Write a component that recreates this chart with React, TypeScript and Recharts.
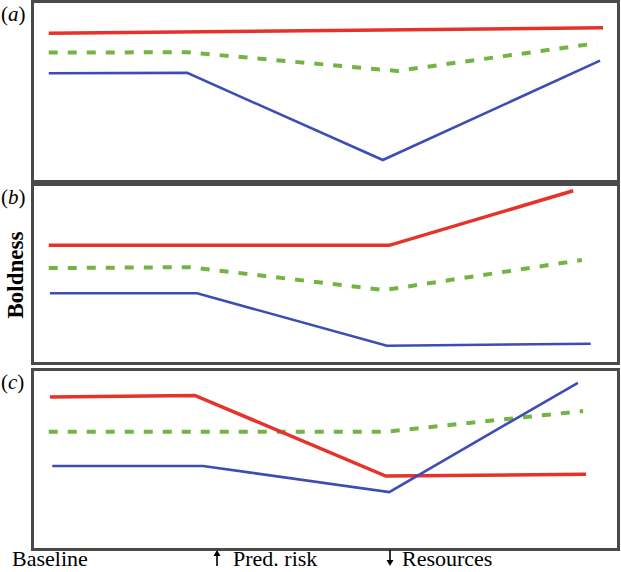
import { LineChart, Line, XAxis, YAxis } from 'recharts'

// t = time position (0-100 across panel), v = boldness (0-100 within panel)
const aRed = [{ t: 2.7, v: 82.6 }, { t: 97.6, v: 85.7 }]
const aGreen = [{ t: 2.7, v: 71.9 }, { t: 26.4, v: 72.1 }, { t: 62.3, v: 61.7 }, { t: 96.6, v: 77.1 }]
const aBlue = [{ t: 2.7, v: 60.4 }, { t: 26.4, v: 60.6 }, { t: 59.9, v: 12.2 }, { t: 97.1, v: 67.4 }]

const bRed = [{ t: 2.7, v: 66.3 }, { t: 61.0, v: 66.3 }, { t: 92.5, v: 96.8 }]
const bGreen = [{ t: 2.7, v: 53.6 }, { t: 26.9, v: 54.1 }, { t: 60.1, v: 41.3 }, { t: 94.0, v: 58.1 }]
const bBlue = [{ t: 2.9, v: 39.5 }, { t: 28.1, v: 39.5 }, { t: 60.6, v: 10.2 }, { t: 95.5, v: 11.3 }]

const cRed = [{ t: 2.9, v: 85.0 }, { t: 27.7, v: 85.9 }, { t: 60.4, v: 41.1 }, { t: 94.7, v: 42.1 }]
const cGreen = [{ t: 2.7, v: 65.7 }, { t: 60.3, v: 65.7 }, { t: 94.2, v: 77.2 }]
const cBlue = [{ t: 3.3, v: 46.7 }, { t: 29.1, v: 46.7 }, { t: 61.0, v: 32.2 }, { t: 93.3, v: 92.9 }]

const panelLabels = ['a', 'b', 'c']
const xLabels = ['Baseline', 'Pred. risk', 'Resources']

const RED = '#e6322a'
const GREEN = '#74b443'
const BLUE = '#3d4db3'
const serif = '"Liberation Serif", "DejaVu Serif", serif'

const panels = [
  { label: panelLabels[0], red: aRed, green: aGreen, blue: aBlue, top: 0, h: 183 },
  { label: panelLabels[1], red: bRed, green: bGreen, blue: bBlue, top: 183, h: 182 },
  { label: panelLabels[2], red: cRed, green: cGreen, blue: cBlue, top: 368, h: 183 },
]

const txt = (left: number, top: number, extra: any = {}) => ({
  position: 'absolute' as const, left, top, fontFamily: serif, fontSize: 22, lineHeight: '20px', whiteSpace: 'nowrap' as const, ...extra,
})

function Arrow({ x, up }: { x: number; up: boolean }) {
  return (
    <svg style={{ position: 'absolute', left: x - 4, top: 550 }} width={8} height={17}>
      <line x1={4} y1={up ? 4 : 0} x2={4} y2={up ? 16 : 12} stroke="#000" strokeWidth={1.6} />
      {up
        ? <polygon points="4,0 7.5,6 0.5,6" fill="#000" />
        : <polygon points="4,16 7.5,10 0.5,10" fill="#000" />}
    </svg>
  )
}

function Panel({ p }: any) {
  return (
    <>
      <div style={{ position: 'absolute', left: 31, top: p.top, width: 589, height: p.h, boxSizing: 'border-box', border: '3px solid #4a4a4a' }} />
      <div style={{ position: 'absolute', left: 33, top: p.top + 2, width: 584, height: p.h - 3 }}>
        <LineChart width={584} height={p.h - 3} margin={{ top: 0, right: 0, bottom: 0, left: 0 }}>
          <XAxis type="number" dataKey="t" domain={[0, 100]} hide />
          <YAxis type="number" domain={[0, 100]} hide />
          <Line data={p.green} dataKey="v" stroke={GREEN} strokeWidth={4} strokeDasharray="9 10" dot={false} isAnimationActive={false} />
          <Line data={p.red} dataKey="v" stroke={RED} strokeWidth={3.5} dot={false} isAnimationActive={false} />
          <Line data={p.blue} dataKey="v" stroke={BLUE} strokeWidth={2.6} dot={false} isAnimationActive={false} />
        </LineChart>
      </div>
      <div style={txt(1, p.top + 4, { fontSize: 21 })}>
        (<i>{p.label}</i>)
      </div>
    </>
  )
}

export default function App() {
  return (
    <div style={{ position: 'absolute', left: 0, top: 0, width: 621, height: 572, background: '#fff', overflow: 'hidden' }}>
      {panels.map(p => <Panel key={p.label} p={p} />)}
      <div style={{ position: 'absolute', left: 16, top: 275, transform: 'translate(-50%, -50%) rotate(-90deg)', fontFamily: serif, fontWeight: 'bold', fontSize: 23, whiteSpace: 'nowrap' }}>
        Boldness
      </div>
      <div style={txt(12, 549)}>{xLabels[0]}</div>
      <Arrow x={217} up />
      <div style={txt(233, 549)}>{xLabels[1]}</div>
      <Arrow x={390} up={false} />
      <div style={txt(402, 549)}>{xLabels[2]}</div>
    </div>
  )
}
